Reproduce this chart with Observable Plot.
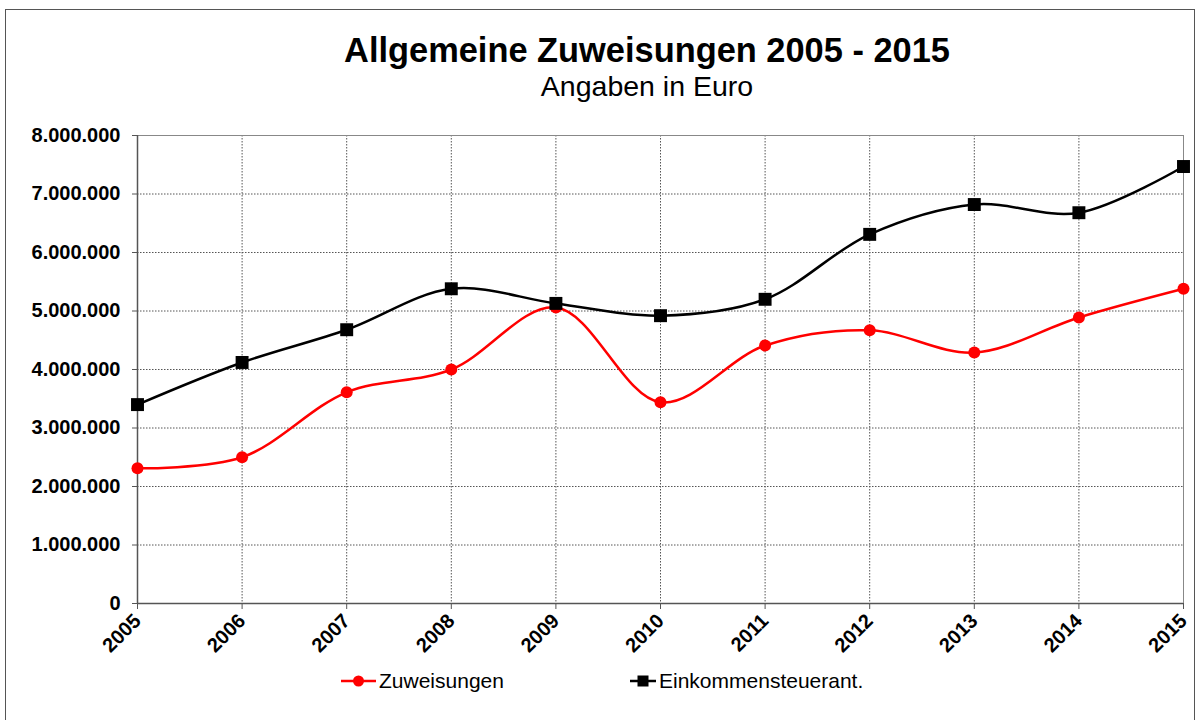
<!DOCTYPE html>
<html>
<head>
<meta charset="utf-8">
<script src="https://cdn.jsdelivr.net/npm/d3@7"></script>
<script src="https://cdn.jsdelivr.net/npm/@observablehq/plot@0.6"></script>
<style>
  html, body { margin: 0; padding: 0; background: #fff; }
  body { width: 1198px; height: 720px; position: relative; overflow: hidden; font-family: "Liberation Sans", Arial, sans-serif; }
  #frame { position: absolute; left: 5px; top: 9px; width: 1190px; height: 740px; border: 1px solid #555; box-sizing: border-box; }
  .title { position: absolute; left: 647px; transform: translateX(-50%); white-space: nowrap; line-height: 1; color: #000; }
  #t1 { top: 33px; font-size: 34.4px; font-weight: bold; }
  #t2 { top: 72px; font-size: 28.5px; }
  #chart { position: absolute; left: 0; top: 110px; }
  #legend { position: absolute; top: 670px; left: 0; width: 1198px; height: 24px; font-size: 21px; line-height: 1; }
  .li { position: absolute; top: 0; display: flex; align-items: center; white-space: nowrap; }
  .li svg { margin-right: 3px; }
</style>
</head>
<body>
<div id="frame"></div>
<div class="title" id="t1">Allgemeine Zuweisungen 2005 - 2015</div>
<div class="title" id="t2">Angaben in Euro</div>
<div id="chart"></div>
<div id="legend"></div>
<script>
const years = [2005, 2006, 2007, 2008, 2009, 2010, 2011, 2012, 2013, 2014, 2015];
const zuweisungen = [2310000, 2500000, 3610000, 4000000, 5060000, 3440000, 4410000, 4670000, 4290000, 4890000, 5380000];
const einkommensteuer = [3400000, 4120000, 4680000, 5380000, 5130000, 4920000, 5200000, 6310000, 6820000, 6680000, 7470000];
const yTicks = [0, 1000000, 2000000, 3000000, 4000000, 5000000, 6000000, 7000000, 8000000];
const seriesNames = ["Zuweisungen", "Einkommensteuerant."];
const seriesColors = ["#ff0000", "#000000"];

const de = d3.formatLocale({decimal: ",", thousands: ".", grouping: [3], currency: ["", " €"]});
const fmt = de.format(",");

const red = years.map((y, i) => ({year: y, value: zuweisungen[i]}));
const black = years.map((y, i) => ({year: y, value: einkommensteuer[i]}));

const chart = Plot.plot({
  width: 1198,
  height: 553,
  marginTop: 25,
  marginBottom: 60,
  marginLeft: 137,
  marginRight: 15,
  style: {fontFamily: "Liberation Sans, Arial, sans-serif", background: "transparent", overflow: "visible"},
  x: {domain: [2005, 2015]},
  y: {domain: [0, 8000000]},
  marks: [
    Plot.gridX(years, {stroke: "#555", strokeOpacity: 1, strokeDasharray: "1.5,1.5", strokeWidth: 1}),
    Plot.gridY(yTicks, {stroke: "#555", strokeOpacity: 1, strokeDasharray: "1.5,1.5", strokeWidth: 1}),
    Plot.frame({stroke: "#888", strokeWidth: 1}),
    Plot.ruleX([2005], {stroke: "#555", strokeWidth: 1.5}),
    Plot.ruleY([0], {stroke: "#555", strokeWidth: 1.5}),
    Plot.axisY(yTicks, {tickSize: 5, tickPadding: 12, tickFormat: fmt, fontSize: 20, fontWeight: "bold", fill: "#000", stroke: "#555", label: null}),
    Plot.axisX(years, {tickSize: 6, tickPadding: 8, tickRotate: -45, tickFormat: d => String(d), fontSize: 20, fontWeight: "bold", fill: "#000", stroke: "#555", label: null}),
    Plot.line(red, {x: "year", y: "value", stroke: seriesColors[0], strokeWidth: 2.5, curve: "catmull-rom"}),
    Plot.dot(red, {x: "year", y: "value", fill: seriesColors[0], r: 6, symbol: "circle"}),
    Plot.line(black, {x: "year", y: "value", stroke: seriesColors[1], strokeWidth: 2.5, curve: "catmull-rom"}),
    Plot.dot(black, {x: "year", y: "value", fill: seriesColors[1], r: 7.3, symbol: "square"})
  ]
});
document.getElementById("chart").appendChild(chart);

// Legend
const legend = document.getElementById("legend");
const legendX = [341, 630];
seriesNames.forEach((name, i) => {
  const item = document.createElement("div");
  item.className = "li";
  item.style.left = legendX[i] + "px";
  const isCircle = i === 0;
  const sw = i === 0 ? 35 : 26;
  const sym = isCircle
    ? `<circle cx="${sw/2}" cy="10" r="5.5" fill="${seriesColors[i]}"/>`
    : `<rect x="${sw/2-5.5}" y="4.5" width="11" height="11" fill="${seriesColors[i]}"/>`;
  item.innerHTML = `<svg width="${sw}" height="20"><line x1="0" x2="${sw}" y1="10" y2="10" stroke="${seriesColors[i]}" stroke-width="2.5"/>${sym}</svg><span>${name}</span>`;
  legend.appendChild(item);
});
</script>
</body>
</html>
